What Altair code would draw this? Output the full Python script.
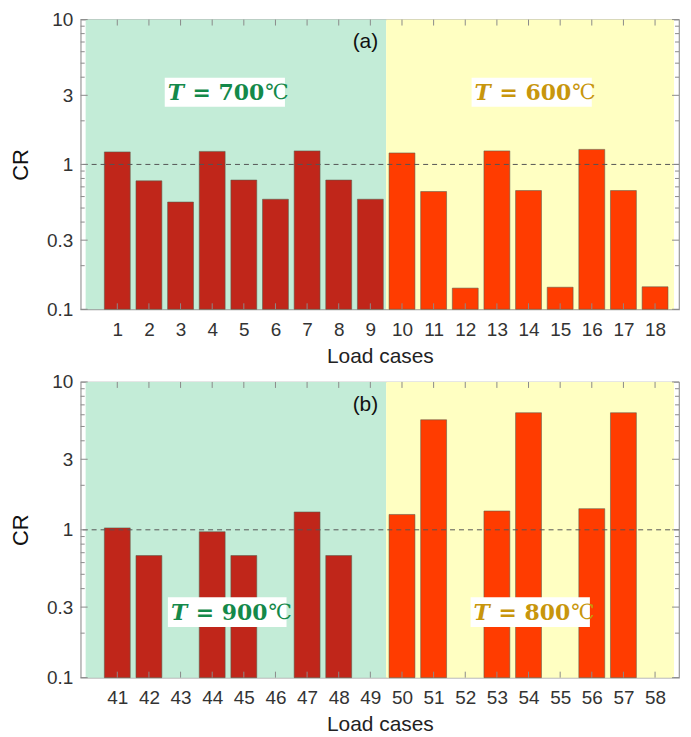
import altair as alt
import pandas as pd

# ---------------- data ----------------
cases_a = list(range(1, 19))
cr_a = [1.22, 0.77, 0.55, 1.23, 0.78, 0.575, 1.24, 0.78, 0.575,
        1.20, 0.65, 0.14, 1.24, 0.66, 0.142, 1.27, 0.66, 0.143]
cases_b = list(range(41, 59))
cr_b = [1.03, 0.67, None, 0.97, 0.67, None, 1.32, 0.67, None,
        1.27, 5.55, None, 1.34, 6.19, None, 1.39, 6.19, None]

y_major = [0.1, 0.3, 1, 3, 10]
y_minor = [0.2, 0.4, 0.5, 0.6, 0.7, 0.8, 0.9, 2, 4, 5, 6, 7, 8, 9]

GREEN_BG = "#C3ECD7"
YELLOW_BG = "#FFFFC2"
DARK_BAR = "#C0261A"
BRIGHT_BAR = "#FF3C00"
GREEN_TXT = "#14894A"
GOLD_TXT = "#C8960C"

W = 601


def panel(cases, cr, xmin, xmax, tag, lab_left, lab_right, lab_y, H):
    split = xmin + 9.5
    xs = alt.Scale(domain=[xmin, xmax], nice=False, zero=False)
    ys = alt.Scale(type="log", domain=[0.1, 10], nice=False)
    xax = alt.Axis(values=cases, title="Load cases", ticks=False,
                   domain=False, grid=False, labelPadding=11,
                   labelFontSize=19, titleFontSize=21,
                   titlePadding=6, labelColor="#333",
                   titleColor="#222", labelFont="Liberation Sans",
                   titleFont="Liberation Sans", titleFontWeight="normal")
    yax = alt.Axis(values=y_major, title="CR", ticks=False,
                   domain=False, grid=False, labelPadding=8,
                   labelFontSize=19, titleFontSize=22,
                   titlePadding=14, labelColor="#333",
                   titleColor="#111", labelFont="Liberation Sans",
                   titleFont="Liberation Sans", titleFontWeight="normal",
                   labelExpr="datum.value >= 1 ? format(datum.value, 'd') : format(datum.value, '.1f')")

    def X(f):
        return alt.X(f, scale=xs, axis=xax, title="Load cases")

    def Y(f):
        return alt.Y(f, scale=ys, axis=yax, title="CR")

    bg = pd.DataFrame({
        "x0": [xmin, split], "x1": [split, xmax],
        "y0": [0.1, 0.1], "y1": [10, 10],
        "fill": [GREEN_BG, YELLOW_BG],
    })
    bg_layer = alt.Chart(bg).mark_rect().encode(
        x=X("x0:Q"), x2="x1:Q", y=Y("y0:Q"), y2="y1:Q",
        color=alt.Color("fill:N", scale=None),
    )

    df = pd.DataFrame({"case": cases, "cr": cr})
    df = df.dropna()
    df["base"] = 0.1
    df["fill"] = [DARK_BAR if c < split else BRIGHT_BAR for c in df["case"]]
    bars = alt.Chart(df).mark_bar(size=26, stroke="#5a5a4a", strokeWidth=0.8,
                                  strokeOpacity=0.7).encode(
        x=X("case:Q"), y=Y("cr:Q"), y2="base:Q",
        color=alt.Color("fill:N", scale=None),
    )

    ref = alt.Chart(pd.DataFrame({"v": [1]})).mark_rule(
        strokeDash=[5, 4], color="#555", strokeWidth=1).encode(y=Y("v:Q"))

    ymaj = pd.DataFrame({"v": y_major})
    ymin = pd.DataFrame({"v": y_minor})
    xt = pd.DataFrame({"v": cases})
    tick_col = "#8a8a8a"
    ticks = []
    for d, L in [(ymaj, 7), (ymin, 4)]:
        ticks.append(alt.Chart(d).mark_rule(color=tick_col).encode(
            y=Y("v:Q"), x=alt.value(0), x2=alt.value(L)))
        ticks.append(alt.Chart(d).mark_rule(color=tick_col).encode(
            y=Y("v:Q"), x=alt.value(W - L), x2=alt.value(W)))
    ticks.append(alt.Chart(xt).mark_rule(color=tick_col).encode(
        x=X("v:Q"), y=alt.value(0), y2=alt.value(6)))
    ticks.append(alt.Chart(xt).mark_rule(color=tick_col).encode(
        x=X("v:Q"), y=alt.value(H - 6), y2=alt.value(H)))

    # tag (a)/(b)
    tag_layer = alt.Chart(pd.DataFrame({"t": [tag], "x": [split], "y": [7.0]})).mark_text(
        align="right", baseline="middle", dx=-8, fontSize=21,
        font="Liberation Sans", color="#111").encode(
        x=X("x:Q"), y=Y("y:Q"), text="t:N")

    # temperature labels
    labels = []
    for (x0, x1, temp, col) in [(lab_left[0], lab_left[1], lab_left[2], GREEN_TXT),
                                (lab_right[0], lab_right[1], lab_right[2], GOLD_TXT)]:
        ldf = pd.DataFrame({"x0": [x0], "x1": [x1], "y0": [lab_y[0]], "y1": [lab_y[2]],
                            "ym": [lab_y[1]], "T": ["T"], "eq": ["= " + temp], "deg": ["℃"]})
        base = alt.Chart(ldf)
        labels.append(base.mark_rect(color="white").encode(
            x=X("x0:Q"), x2="x1:Q", y=Y("y0:Q"), y2="y1:Q"))
        common = dict(x=X("x0:Q"), y=Y("ym:Q"))
        labels.append(base.mark_text(align="left", baseline="middle", dx=3, dy=1,
                                     font="DejaVu Serif", fontSize=22, fontWeight="bold",
                                     fontStyle="italic", color=col).encode(text="T:N", **common))
        labels.append(base.mark_text(align="left", baseline="middle", dx=28, dy=1,
                                     font="DejaVu Serif", fontSize=22, fontWeight="bold",
                                     color=col).encode(text="eq:N", **common))
        labels.append(base.mark_text(align="left", baseline="middle", dx=101, dy=1,
                                     font="DejaVu Serif", fontSize=21, fontWeight="normal",
                                     color=col).encode(text="deg:N", **common))

    return alt.layer(bg_layer, bars, ref, *ticks, tag_layer, *labels).properties(
        width=W, height=H)


top = panel(cases_a, cr_a, 0, 18.6, "(a)",
            (2.5, 6.3, "700"), (12.2, 16.0, "600"), (2.5, 3.15, 3.97), 291)
bottom = panel(cases_b, cr_b, 40, 58.6, "(b)",
               (42.6, 46.35, "900"), (52.17, 55.94, "800"), (0.22, 0.277, 0.35), 297)

chart = alt.vconcat(top, bottom, spacing=5).properties(
    padding={"left": 0, "top": 0, "right": 2, "bottom": 2}
).configure_view(stroke="#9a9a9a", strokeWidth=1.2)

chart.save("out.html", embed_options={"renderer": "svg", "actions": False})
